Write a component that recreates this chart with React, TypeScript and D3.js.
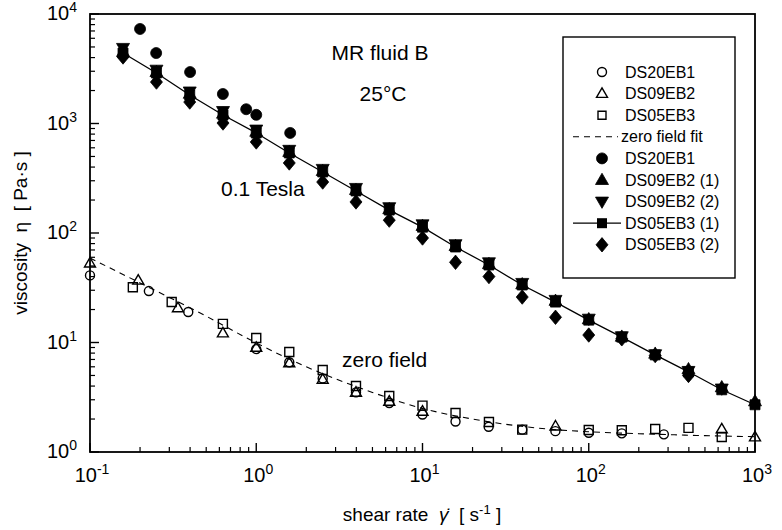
import React from 'react';
import * as d3 from 'd3';

// ---------- data ----------
const xRheo = [0.158, 0.251, 0.398, 0.631, 1, 1.58, 2.51, 3.98, 6.31, 10, 15.8, 25.1, 39.8, 63.1, 100, 158, 251, 398, 631, 1000];

// 0.1 Tesla series
const ds05eb3_1 = [4400, 2890, 1820, 1195, 819, 538, 361, 242, 162, 113, 74.5, 51, 33.5, 23.4, 16, 11.2, 7.7, 5.4, 3.7, 2.7];
const ds09eb2_1 = [4500, 2950, 1870, 1230, 840, 550, 368, 247, 165, 116, 76, 52, 34, 24, 16.3, 11.3, 7.9, 5.7, 3.9, 2.9];
const ds09eb2_2 = [4900, 3100, 1960, 1300, 880, 575, 385, 258, 172, 120, 79, 54, 35, 24.5, 16.5, 11.4, 7.8, 5.5, 3.8];
const ds05eb3_2 = [4050, 2390, 1570, 1010, 678, 436, 292, 192, 131, 90, 54, 40, 26, 17, 11.7, 10.8, 7.6, 5.0];
const ds20eb1_fieldX = [0.2, 0.25, 0.4, 0.63, 0.87, 1.0, 1.6];
const ds20eb1_field = [7300, 4400, 2950, 1860, 1350, 1200, 820];

// zero field series
const ds20eb1_zeroX = [0.1, 0.226, 0.39, 1.0, 1.58, 2.51, 3.98, 6.31, 10, 15.8, 25, 39.8, 63, 100, 158, 283];
const ds20eb1_zero = [41, 29.5, 19, 8.7, 6.6, 4.7, 3.5, 2.8, 2.2, 1.9, 1.7, 1.6, 1.55, 1.5, 1.48, 1.45];
const ds09eb2_zeroX = [0.1, 0.195, 0.338, 0.63, 1.0, 1.58, 2.51, 3.98, 6.31, 10, 63.1, 631, 1000];
const ds09eb2_zero = [53, 37, 20.7, 12.2, 9.0, 6.5, 4.6, 3.5, 2.9, 2.35, 1.72, 1.62, 1.37];
const ds05eb3_zeroX = [0.181, 0.31, 0.63, 1.0, 1.58, 2.51, 3.98, 6.31, 10, 15.8, 25.1, 39.8, 100, 158, 251, 398, 631];
const ds05eb3_zero = [32, 23.4, 14.8, 11, 8.2, 5.6, 4.0, 3.25, 2.65, 2.27, 1.88, 1.6, 1.59, 1.58, 1.62, 1.66, 1.37];

// zero field fit
const fitX = [0.1, 0.2, 0.5, 1, 2, 5, 10, 20, 50, 100, 200, 500, 1000];
const fitY = [59, 35, 17.4, 9.9, 6.0, 3.5, 2.5, 2.0, 1.65, 1.53, 1.47, 1.41, 1.38];

const xTickExps = [-1, 0, 1, 2, 3];
const yTickExps = [0, 1, 2, 3, 4];

const legendLabels = ['DS20EB1', 'DS09EB2', 'DS05EB3', 'zero field fit', 'DS20EB1', 'DS09EB2 (1)', 'DS09EB2 (2)', 'DS05EB3 (1)', 'DS05EB3 (2)'];

// ---------- layout ----------
const W = 782, H = 530;
const X0 = 90, X1 = 755, Y0 = 14, Y1 = 452;
const FONT = '"Liberation Sans", Arial, Helvetica, sans-serif';

const x = d3.scaleLog().domain([0.1, 1000]).range([X0, X1]);
const y = d3.scaleLog().domain([1, 10000]).range([Y1, Y0]);

type Kind = 'circle' | 'triUp' | 'triDown' | 'square' | 'diamond';

function symPath(kind: Kind, s: number): string {
  if (kind === 'circle') {
    const r = s / 2;
    return `M${-r},0A${r},${r} 0 1,0 ${r},0A${r},${r} 0 1,0 ${-r},0Z`;
  }
  if (kind === 'square') {
    const h = s / 2;
    return `M${-h},${-h}H${h}V${h}H${-h}Z`;
  }
  if (kind === 'triUp') {
    const h = s * 0.866;
    return `M0,${-h * 0.6}L${s / 2},${h * 0.4}L${-s / 2},${h * 0.4}Z`;
  }
  if (kind === 'triDown') {
    const h = s * 0.866;
    return `M0,${h * 0.6}L${s / 2},${-h * 0.4}L${-s / 2},${-h * 0.4}Z`;
  }
  const a = s * 0.6, b = s * 0.5;
  return `M0,${-a}L${b},0L0,${a}L${-b},0Z`;
}

function Marks({ xs, ys, kind, size, filled }: { xs: number[]; ys: number[]; kind: Kind; size: number; filled: boolean }) {
  const d = symPath(kind, size);
  return (
    <g>
      {ys.map((v, i) => (
        <path key={i} d={d} transform={`translate(${x(xs[i])},${y(v)})`}
          fill={filled ? '#000' : 'none'} stroke="#000" strokeWidth={filled ? 0.8 : 1.4} />
      ))}
    </g>
  );
}

function Pow({ exp, px, py, anchor }: { exp: number; px: number; py: number; anchor: 'start' | 'middle' | 'end' }) {
  return (
    <text x={px} y={py} textAnchor={anchor} fontFamily={FONT} fontSize={20} fill="#000">
      10<tspan fontSize={14} dy={-8}>{exp}</tspan>
    </text>
  );
}

export default function App() {
  const minorX: number[] = [];
  for (let e = -1; e < 3; e++) for (let k = 2; k <= 9; k++) minorX.push(k * Math.pow(10, e));
  const minorY: number[] = [];
  for (let e = 0; e < 4; e++) for (let k = 2; k <= 9; k++) minorY.push(k * Math.pow(10, e));

  const solid = d3.line<number>().x((_, i) => x(xRheo[i])).y(v => y(v));
  const fitLine = d3.line<number>().x((_, i) => x(fitX[i])).y(v => y(v)).curve(d3.curveMonotoneX);

  const legX = 563, legY = 37, legW = 172, legH = 241;
  const rowY = (i: number) => 72 + i * 21.6;
  const symX = 602, txtX = 625;
  const legendSyms: { kind: Kind | 'dash' | 'lineSquare'; size: number; filled: boolean }[] = [
    { kind: 'circle', size: 9, filled: false },
    { kind: 'triUp', size: 11, filled: false },
    { kind: 'square', size: 8, filled: false },
    { kind: 'dash', size: 0, filled: false },
    { kind: 'circle', size: 11, filled: true },
    { kind: 'triUp', size: 13, filled: true },
    { kind: 'triDown', size: 13, filled: true },
    { kind: 'lineSquare', size: 10, filled: true },
    { kind: 'diamond', size: 12, filled: true },
  ];

  return (
    <svg width={W} height={H} style={{ position: 'absolute', left: 0, top: 0, background: '#fff' }}>
      <rect x={0} y={0} width={W} height={H} fill="#fff" />

      <path d={fitLine(fitY) || ''} fill="none" stroke="#000" strokeWidth={1.1} strokeDasharray="6,5" />
      <path d={solid(ds05eb3_1) || ''} fill="none" stroke="#000" strokeWidth={1.3} />

      <Marks xs={ds05eb3_zeroX} ys={ds05eb3_zero} kind="square" size={9} filled={false} />
      <Marks xs={ds09eb2_zeroX} ys={ds09eb2_zero} kind="triUp" size={11} filled={false} />
      <Marks xs={ds20eb1_zeroX} ys={ds20eb1_zero} kind="circle" size={9} filled={false} />

      <Marks xs={xRheo} ys={ds05eb3_2} kind="diamond" size={12} filled />
      <Marks xs={xRheo} ys={ds09eb2_1} kind="triUp" size={13} filled />
      <Marks xs={xRheo} ys={ds09eb2_2} kind="triDown" size={13} filled />
      <Marks xs={xRheo} ys={ds05eb3_1} kind="square" size={10} filled />
      <Marks xs={ds20eb1_fieldX} ys={ds20eb1_field} kind="circle" size={11} filled />

      <rect x={X0} y={Y0} width={X1 - X0} height={Y1 - Y0} fill="none" stroke="#000" strokeWidth={1.8} />

      {xTickExps.map(e => (
        <line key={'xM' + e} x1={x(Math.pow(10, e))} x2={x(Math.pow(10, e))} y1={Y1} y2={Y1 - 9} stroke="#000" strokeWidth={1.4} />
      ))}
      {minorX.map((v, i) => (
        <line key={'xm' + i} x1={x(v)} x2={x(v)} y1={Y1} y2={Y1 - 5} stroke="#000" strokeWidth={1.2} />
      ))}
      {yTickExps.map(e => (
        <line key={'yM' + e} x1={X0} x2={X0 + 9} y1={y(Math.pow(10, e))} y2={y(Math.pow(10, e))} stroke="#000" strokeWidth={1.4} />
      ))}
      {minorY.map((v, i) => (
        <line key={'ym' + i} x1={X0} x2={X0 + 5} y1={y(v)} y2={y(v)} stroke="#000" strokeWidth={1.2} />
      ))}

      {xTickExps.map(e => (
        <Pow key={'xl' + e} exp={e} px={x(Math.pow(10, e)) + 2} py={482} anchor="middle" />
      ))}
      {yTickExps.map(e => (
        <Pow key={'yl' + e} exp={e} px={77} py={y(Math.pow(10, e)) + 6} anchor="end" />
      ))}

      <text x={422} y={521} textAnchor="middle" fontFamily={FONT} fontSize={19} fill="#000" style={{ whiteSpace: 'pre' }}>
        {'shear rate  '}<tspan fontStyle="italic">γ̇</tspan>{'  [ s'}<tspan fontSize={13} dy={-7}>-1</tspan><tspan dy={7}>{' ]'}</tspan>
      </text>
      <text transform={`translate(27,${233}) rotate(-90)`} textAnchor="middle" fontFamily={FONT} fontSize={19} fill="#000" style={{ whiteSpace: 'pre' }}>
        {'viscosity  η  [ Pa·s ]'}
      </text>

      <text x={380} y={60} textAnchor="middle" fontFamily={FONT} fontSize={21} fill="#000">MR fluid B</text>
      <text x={383} y={101} textAnchor="middle" fontFamily={FONT} fontSize={21} fill="#000">25°C</text>
      <text x={221} y={196} fontFamily={FONT} fontSize={21} fill="#000">0.1 Tesla</text>
      <text x={342} y={367} fontFamily={FONT} fontSize={21} fill="#000">zero field</text>

      <rect x={legX} y={legY} width={legW} height={legH} fill="#fff" stroke="#000" strokeWidth={1.4} />
      {legendLabels.map((lab, i) => {
        const s = legendSyms[i];
        const cy = rowY(i);
        let mark: React.ReactNode = null;
        if (s.kind === 'dash') {
          mark = <line x1={573} x2={618} y1={cy} y2={cy} stroke="#000" strokeWidth={1.1} strokeDasharray="6,5" />;
        } else if (s.kind === 'lineSquare') {
          mark = (
            <g>
              <line x1={573} x2={621} y1={cy} y2={cy} stroke="#000" strokeWidth={1.3} />
              <path d={symPath('square', s.size)} transform={`translate(${symX},${cy})`} fill="#000" />
            </g>
          );
        } else {
          mark = (
            <path d={symPath(s.kind as Kind, s.size)} transform={`translate(${symX},${cy})`}
              fill={s.filled ? '#000' : 'none'} stroke="#000" strokeWidth={s.filled ? 0.8 : 1.4} />
          );
        }
        return (
          <g key={'lg' + i}>
            {mark}
            <text x={s.kind === 'dash' ? 621 : txtX} y={cy + 5.5} fontFamily={FONT} fontSize={16} fill="#000">{lab}</text>
          </g>
        );
      })}
    </svg>
  );
}
